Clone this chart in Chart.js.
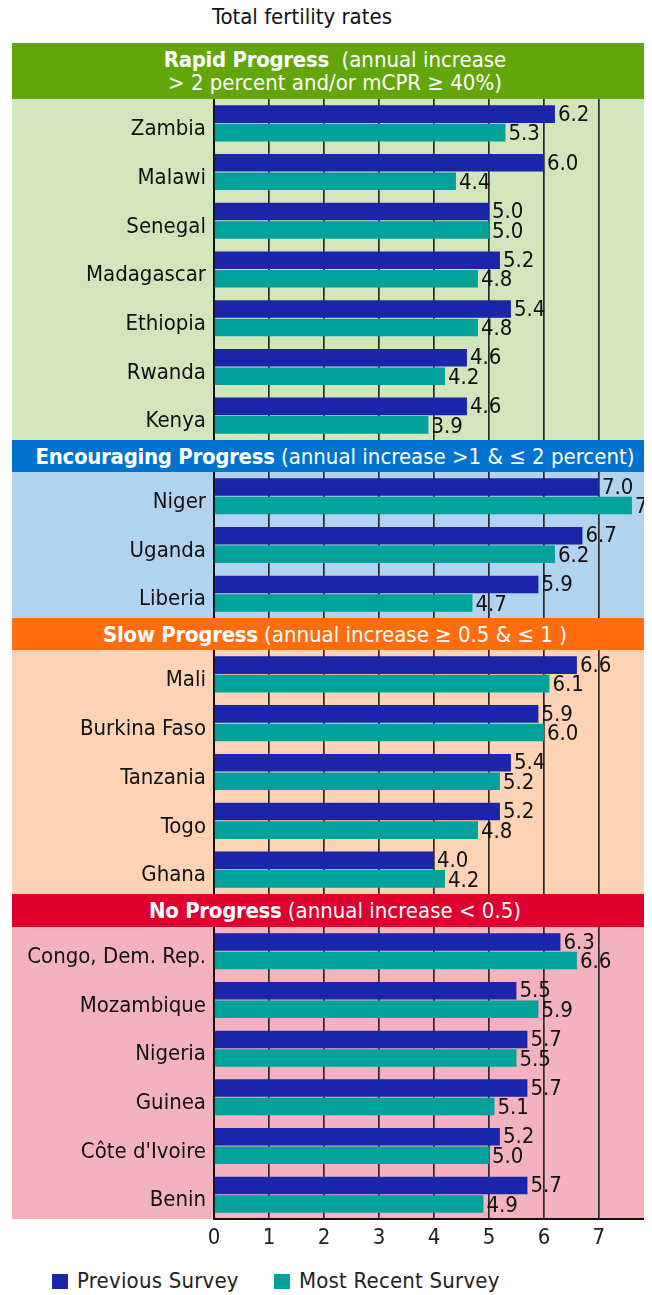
<!DOCTYPE html>
<html>
<head>
<meta charset="utf-8">
<script src="https://cdn.jsdelivr.net/npm/chart.js@4.4.1/dist/chart.umd.min.js"></script>
<style>
  body { margin: 0; background: #fff; width: 652px; height: 1295px; position: relative; overflow: hidden;
         font-family: 'Liberation Sans Narrow', 'DejaVu Sans Condensed', Roboto, sans-serif; }
  .title { position: absolute; top: 4px; left: 0; width: 604px; text-align: center; font-size: 22px; color: #111; }
  .band { position: absolute; left: 12px; width: 632px; color: #fff; text-align: center; font-size: 22px;
          box-sizing: border-box; padding-left: 14px; display: flex; flex-direction: column; justify-content: center; line-height: 23px; }
  .band b { font-weight: bold; letter-spacing: -0.3px; }
  .section { position: absolute; left: 12px; width: 632px; }
  .section canvas { position: absolute; left: 0; top: 0; }
  .legend { position: absolute; top: 1268px; font-size: 22px; color: #222; letter-spacing: 0.2px; }
  .legend span.sw { display: inline-block; width: 16px; height: 15px; vertical-align: -1px; margin-right: 9px; }
</style>
</head>
<body>
<div class="title">Total fertility rates</div>
<div id="chart-root"></div>
<div class="legend" style="left:52px"><span class="sw" style="background:#1b25a9"></span>Previous Survey</div>
<div class="legend" style="left:274px"><span class="sw" style="background:#00a29a"></span>Most Recent Survey</div>

<script>
// data
const countries = ['Zambia', 'Malawi', 'Senegal', 'Madagascar', 'Ethiopia', 'Rwanda', 'Kenya',
    'Niger', 'Uganda', 'Liberia',
    'Mali', 'Burkina Faso', 'Tanzania', 'Togo', 'Ghana',
    'Congo, Dem. Rep.', 'Mozambique', 'Nigeria', 'Guinea', "Côte d'Ivoire", 'Benin'];
const previousSurvey = [6.2, 6.0, 5.0, 5.2, 5.4, 4.6, 4.6,
    7.0, 6.7, 5.9,
    6.6, 5.9, 5.4, 5.2, 4.0,
    6.3, 5.5, 5.7, 5.7, 5.2, 5.7];
const recentSurvey = [5.3, 4.4, 5.0, 4.8, 4.8, 4.2, 3.9,
    7.6, 6.2, 4.7,
    6.1, 6.0, 5.2, 4.8, 4.2,
    6.6, 5.9, 5.5, 5.1, 5.0, 4.9];
const sectionSizes = [7, 3, 5, 6];
const sectionTitles = ['Rapid Progress', 'Encouraging Progress', 'Slow Progress', 'No Progress'];
const sectionNotes = ['&nbsp;(annual increase<br>> 2 percent and/or mCPR ≥ 40%)', '(annual increase >1 & ≤ 2 percent)',
    '(annual increase ≥ 0.5 & ≤ 1 )', '(annual increase < 0.5)'];
const xTicks = [0, 1, 2, 3, 4, 5, 6, 7];

const BLUE = '#1b25a9';
const TEAL = '#00a29a';
const FONT = "'Liberation Sans Narrow', 'DejaVu Sans Condensed', Roboto, sans-serif";
const bandColors = ['#62a60a', '#0073cf', '#ff6d0e', '#e0002e'];
const bgColors = ['#d3e5bb', '#b2d3ee', '#fdd3b5', '#f4b1bf'];
const bandHeights = [56, 32, 32, 33];
const rowHeight = 48.7;
const labelWidth = 202;
const X_MAX = 7.82;

// value labels at the end of each bar
const valueLabels = {
    id: 'valueLabels',
    afterDatasetsDraw(chart) {
        const ctx = chart.ctx;
        ctx.save();
        ctx.font = '22px ' + FONT;
        ctx.fillStyle = '#111';
        ctx.textBaseline = 'middle';
        chart.data.datasets.forEach((ds, i) => {
            chart.getDatasetMeta(i).data.forEach((bar, j) => {
                ctx.fillText(ds.data[j].toFixed(1), bar.x + 3, bar.y + (i === 0 ? 1 : 2));
            });
        });
        ctx.restore();
    }
};

const root = document.getElementById('chart-root');
let yPos = 43;
let start = 0;

sectionSizes.forEach((n, s) => {
    const band = document.createElement('div');
    band.className = 'band';
    band.style.top = yPos + 'px';
    band.style.height = bandHeights[s] + 'px';
    band.style.background = bandColors[s];
    band.innerHTML = '<div><b>' + sectionTitles[s] + '</b> ' + sectionNotes[s] + '</div>';
    root.appendChild(band);
    yPos += bandHeights[s];

    const isLast = s === sectionSizes.length - 1;
    const h = Math.round(n * rowHeight);
    const sec = document.createElement('div');
    sec.className = 'section';
    sec.style.top = yPos + 'px';
    sec.style.height = (isLast ? h + 40 : h) + 'px';
    const bg = document.createElement('div');
    bg.style.cssText = 'position:absolute;left:0;top:0;width:632px;height:' + h + 'px;background:' + bgColors[s];
    sec.appendChild(bg);
    const canvas = document.createElement('canvas');
    canvas.width = 632;
    canvas.height = isLast ? h + 40 : h;
    sec.appendChild(canvas);
    root.appendChild(sec);

    new Chart(canvas, {
        type: 'bar',
        data: {
            labels: countries.slice(start, start + n),
            datasets: [
                { label: 'Previous Survey', data: previousSurvey.slice(start, start + n), backgroundColor: BLUE },
                { label: 'Most Recent Survey', data: recentSurvey.slice(start, start + n), backgroundColor: TEAL }
            ]
        },
        options: {
            indexAxis: 'y',
            responsive: false,
            animation: false,
            layout: { padding: 0 },
            datasets: { bar: { categoryPercentage: 0.76, barPercentage: 0.95 } },
            plugins: { legend: { display: false }, tooltip: { enabled: false } },
            scales: {
                x: {
                    min: 0,
                    max: X_MAX,
                    afterBuildTicks: sc => { sc.ticks = xTicks.map(v => ({ value: v })); },
                    ticks: { display: isLast, font: { family: FONT, size: 22 }, color: '#222', padding: 6 },
                    grid: { color: '#2a2a2a', lineWidth: 1.7, drawTicks: false },
                    border: { display: isLast, color: '#111', width: 2 },
                    afterFit: sc => {
                        sc.height = isLast ? 40 : 0;
                        sc.paddingLeft = 0;
                        sc.paddingRight = 0;
                    }
                },
                y: {
                    ticks: { font: { family: FONT, size: 22 }, color: '#111', padding: 8, labelOffset: 6 },
                    grid: { display: false, drawTicks: false },
                    border: { color: '#111', width: 2 },
                    afterFit: sc => {
                        sc.width = labelWidth;
                        sc.paddingTop = 0;
                        sc.paddingBottom = 0;
                    }
                }
            }
        },
        plugins: [valueLabels]
    });

    start += n;
    yPos += h;
});
</script>
</body>
</html>
